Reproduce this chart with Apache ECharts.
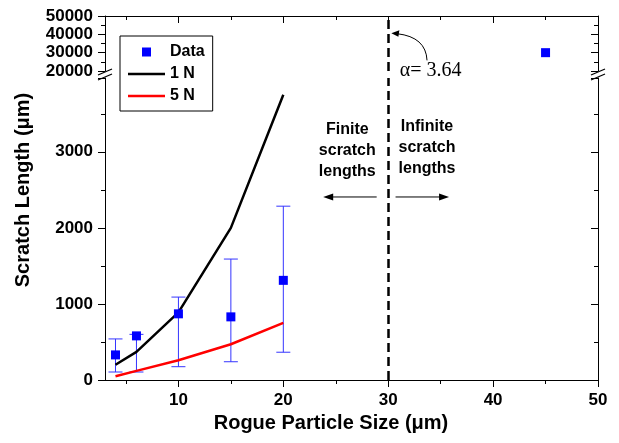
<!DOCTYPE html>
<html>
<head>
<meta charset="utf-8">
<script src="https://cdn.jsdelivr.net/npm/echarts@6/dist/echarts.min.js"></script>
<style>
html, body { margin: 0; padding: 0; background: #fff; }
#container { width: 619px; height: 443px; }
</style>
</head>
<body>
<div id="container"></div>
<script>
var dom = document.getElementById('container');
var myChart = echarts.init(dom);

// values
var dataLow = [[4, 330], [6, 580], [10, 870], [15, 830], [20, 1310]];
var dataHigh = [[45, 30000]];
// [x, lower end, upper end]
var errBars = [[4, 105, 540], [6, 105, 600], [10, 175, 1090], [15, 240, 1590], [20, 365, 2285]];
var line1N = [[4, 200], [6, 370], [10, 890], [15, 2000], [20, 3750]];
var line5N = [[4, 50], [6, 120], [10, 260], [15, 470], [20, 750]];
var xMajor = [10, 20, 30, 40, 50];
var xMinor = [5, 15, 25, 35, 45];
var alphaLine = 30;

var FONT = 'Liberation Sans';
var axisCol = '#000';

function xAx(grid, pos, ticks, len, showLine, showLabel) {
    return {
        type: 'value', gridIndex: grid, position: pos, min: 3, max: 50,
        axisLine: { show: showLine, onZero: false, lineStyle: { color: axisCol, width: 1 } },
        axisTick: { show: true, inside: pos == 'top', length: len, customValues: ticks, lineStyle: { color: axisCol } },
        axisLabel: { show: showLabel, customValues: xMajor, margin: 12, color: '#000', fontFamily: FONT, fontWeight: 'bold', fontSize: 17 },
        splitLine: { show: false }
    };
}

function yAx(grid, pos, min, max, interval, showLabel) {
    return {
        type: 'value', gridIndex: grid, position: pos, min: min, max: max, interval: interval,
        axisLine: { show: true, onZero: false, lineStyle: { color: axisCol, width: 1 } },
        axisTick: { show: true, inside: pos == 'right', length: 7, lineStyle: { color: axisCol } },
        minorTick: { show: true, splitNumber: 2, length: 4, lineStyle: { color: axisCol } },
        axisLabel: {
            show: showLabel, margin: 12, color: '#000', fontFamily: FONT, fontWeight: 'bold', fontSize: 17,
            formatter: function (v) { return v % interval === 0 ? String(v) : ''; }
        },
        splitLine: { show: false }
    };
}

var dashStyle = { color: '#000', type: [9, 5], width: 2.5 };
// icons padded with invisible points so they keep their size inside a 37x14 slot
var squareIcon = 'path://M0,0L0,0M14,2.5L23,2.5L23,11.5L14,11.5ZM37,14L37,14';
var lineIcon = 'path://M0,0L0,0M0,5.7L37,5.7L37,8.3L0,8.3ZM37,14L37,14';

option = {
    animation: false,
    grid: [
        { left: 105, right: 21, top: 16, bottom: 372 },
        { left: 105, right: 21, top: 78, bottom: 63 }
    ],
    xAxis: [
        xAx(0, 'top', xMajor, 7, true, false),
        xAx(0, 'top', xMinor, 4, false, false),
        xAx(1, 'bottom', xMajor, 7, true, true),
        xAx(1, 'bottom', xMinor, 4, false, false)
    ],
    yAxis: [
        yAx(0, 'left', 20000, 50000, 10000, true),
        yAx(0, 'right', 20000, 50000, 10000, false),
        yAx(1, 'left', 0, 3970, 1000, true),
        yAx(1, 'right', 0, 3970, 1000, false)
    ],
    legend: {
        orient: 'vertical', left: 120, top: 36,
        padding: [8, 8, 7, 8], itemGap: 6,
        itemWidth: 37, itemHeight: 14,
        borderColor: '#000', borderWidth: 1,
        textStyle: { color: '#000', fontFamily: FONT, fontWeight: 'bold', fontSize: 16 },
        data: [
            { name: 'Data', icon: squareIcon },
            { name: '1 N', icon: lineIcon, itemStyle: { color: '#000', borderWidth: 0 } },
            { name: '5 N', icon: lineIcon, itemStyle: { color: '#ff0000', borderWidth: 0 } }
        ],
        selectedMode: false
    },
    series: [
        {
            type: 'custom', name: 'err', xAxisIndex: 2, yAxisIndex: 2,
            data: errBars, encode: { x: 0, y: [1, 2] }, z: 3,
            renderItem: function (params, api) {
                var x = api.value(0);
                var lo = api.coord([x, api.value(1)]);
                var hi = api.coord([x, api.value(2)]);
                var w = 7;
                var st = { stroke: '#3434ff', lineWidth: 1 };
                return {
                    type: 'group', children: [
                        { type: 'line', shape: { x1: hi[0] - w, y1: hi[1], x2: hi[0] + w, y2: hi[1] }, style: st },
                        { type: 'line', shape: { x1: hi[0], y1: hi[1], x2: lo[0], y2: lo[1] }, style: st },
                        { type: 'line', shape: { x1: lo[0] - w, y1: lo[1], x2: lo[0] + w, y2: lo[1] }, style: st }
                    ]
                };
            }
        },
        {
            type: 'line', name: '1 N', xAxisIndex: 2, yAxisIndex: 2, data: line1N,
            symbol: 'none', color: '#000', lineStyle: { color: '#000', width: 2.5 }, z: 4
        },
        {
            type: 'line', name: '5 N', xAxisIndex: 2, yAxisIndex: 2, data: line5N,
            symbol: 'none', color: '#ff0000', lineStyle: { color: '#ff0000', width: 2.5 }, z: 4
        },
        {
            type: 'scatter', name: 'Data', xAxisIndex: 2, yAxisIndex: 2, data: dataLow,
            symbol: 'rect', symbolSize: 9, itemStyle: { color: '#0000ff', opacity: 1 }, z: 5,
            markLine: { silent: true, symbol: ['none', 'none'], label: { show: false }, lineStyle: dashStyle, data: [{ xAxis: alphaLine }] }
        },
        {
            type: 'scatter', name: 'Data', xAxisIndex: 0, yAxisIndex: 0, data: dataHigh,
            symbol: 'rect', symbolSize: 9, itemStyle: { color: '#0000ff', opacity: 1 }, z: 5,
            markLine: { silent: true, symbol: ['none', 'none'], label: { show: false }, lineStyle: dashStyle, data: [{ xAxis: alphaLine }] }
        }
    ]
};

myChart.setOption(option);

// annotations placed from data coordinates
function pxLow(x, y) { return myChart.convertToPixel({ xAxisIndex: 2, yAxisIndex: 2 }, [x, y]); }
function pxHigh(x, y) { return myChart.convertToPixel({ xAxisIndex: 0, yAxisIndex: 0 }, [x, y]); }

var txt = { fill: '#000', font: 'bold 16px "Liberation Sans"', align: 'center', verticalAlign: 'middle', lineHeight: 21 };
var pFin = pxLow(26.1, 3010);
var pInf = pxLow(33.7, 3050);
var lA = pxLow(23.8, 2406), lB = pxLow(28.9, 2406);
var rA = pxLow(30.7, 2406), rB = pxLow(35.8, 2406);
var aTxt = pxHigh(31.1, 20100);
var cStart = pxHigh(33.7, 25800), cCtrl = pxHigh(33.6, 38500), cTip = pxHigh(30.3, 40600);
var brTop = pxHigh(3, 20000), brBot = pxLow(3, 3970);
var brMid = (brTop[1] + brBot[1]) / 2;
var rightX = pxLow(50, 0)[0];
var leftX = brTop[0];

function breakMark(x) {
    return [
        { type: 'rect', shape: { x: x - 3, y: brTop[1] + 1, width: 6, height: brBot[1] - brTop[1] - 2 }, style: { fill: '#fff' } },
        { type: 'line', shape: { x1: x - 7, y1: brMid + 0.5, x2: x + 7, y2: brMid - 5.5 }, style: { stroke: '#000', lineWidth: 1.2 } },
        { type: 'line', shape: { x1: x - 7, y1: brMid + 5.5, x2: x + 7, y2: brMid - 0.5 }, style: { stroke: '#000', lineWidth: 1.2 } }
    ];
}

var els = [
    { type: 'text', style: Object.assign({ text: 'Finite\nscratch\nlengths', x: pFin[0], y: pFin[1] }, txt) },
    { type: 'text', style: Object.assign({ text: 'Infinite\nscratch\nlengths', x: pInf[0], y: pInf[1] }, txt) },
    { type: 'line', shape: { x1: lA[0] + 8, y1: lA[1], x2: lB[0], y2: lB[1] }, style: { stroke: '#000', lineWidth: 1 } },
    { type: 'polygon', shape: { points: [[lA[0], lA[1]], [lA[0] + 10, lA[1] - 3.5], [lA[0] + 10, lA[1] + 3.5]] }, style: { fill: '#000' } },
    { type: 'line', shape: { x1: rA[0], y1: rA[1], x2: rB[0] - 8, y2: rB[1] }, style: { stroke: '#000', lineWidth: 1 } },
    { type: 'polygon', shape: { points: [[rB[0], rB[1]], [rB[0] - 10, rB[1] - 3.5], [rB[0] - 10, rB[1] + 3.5]] }, style: { fill: '#000' } },
    { type: 'text', style: { text: 'α= 3.64', x: aTxt[0], y: aTxt[1], fill: '#000', font: '20px "Liberation Serif"', align: 'left', verticalAlign: 'middle' } },
    { type: 'bezierCurve', shape: { x1: cStart[0], y1: cStart[1], cpx1: cCtrl[0], cpy1: cCtrl[1], x2: cTip[0] + 6, y2: cTip[1] + 0.5 }, style: { stroke: '#000', lineWidth: 1, fill: null } },
    { type: 'polygon', shape: { points: [[cTip[0], cTip[1]], [cTip[0] + 8, cTip[1] - 3], [cTip[0] + 7, cTip[1] + 3.5]] }, style: { fill: '#000' } },
    { type: 'text', rotation: Math.PI / 2, x: 23, y: 190, style: { text: 'Scratch Length (μm)', x: 0, y: 0, fill: '#000', font: 'bold 20px "Liberation Sans"', align: 'center', verticalAlign: 'middle' } },
    { type: 'text', style: { text: 'Rogue Particle Size (μm)', x: 331, y: 423, fill: '#000', font: 'bold 20px "Liberation Sans"', align: 'center', verticalAlign: 'middle' } }
].concat(breakMark(leftX)).concat(breakMark(rightX));

myChart.setOption({ graphic: { elements: els } });

window.addEventListener('resize', function () {
    myChart.resize();
});
</script>
</body>
</html>
